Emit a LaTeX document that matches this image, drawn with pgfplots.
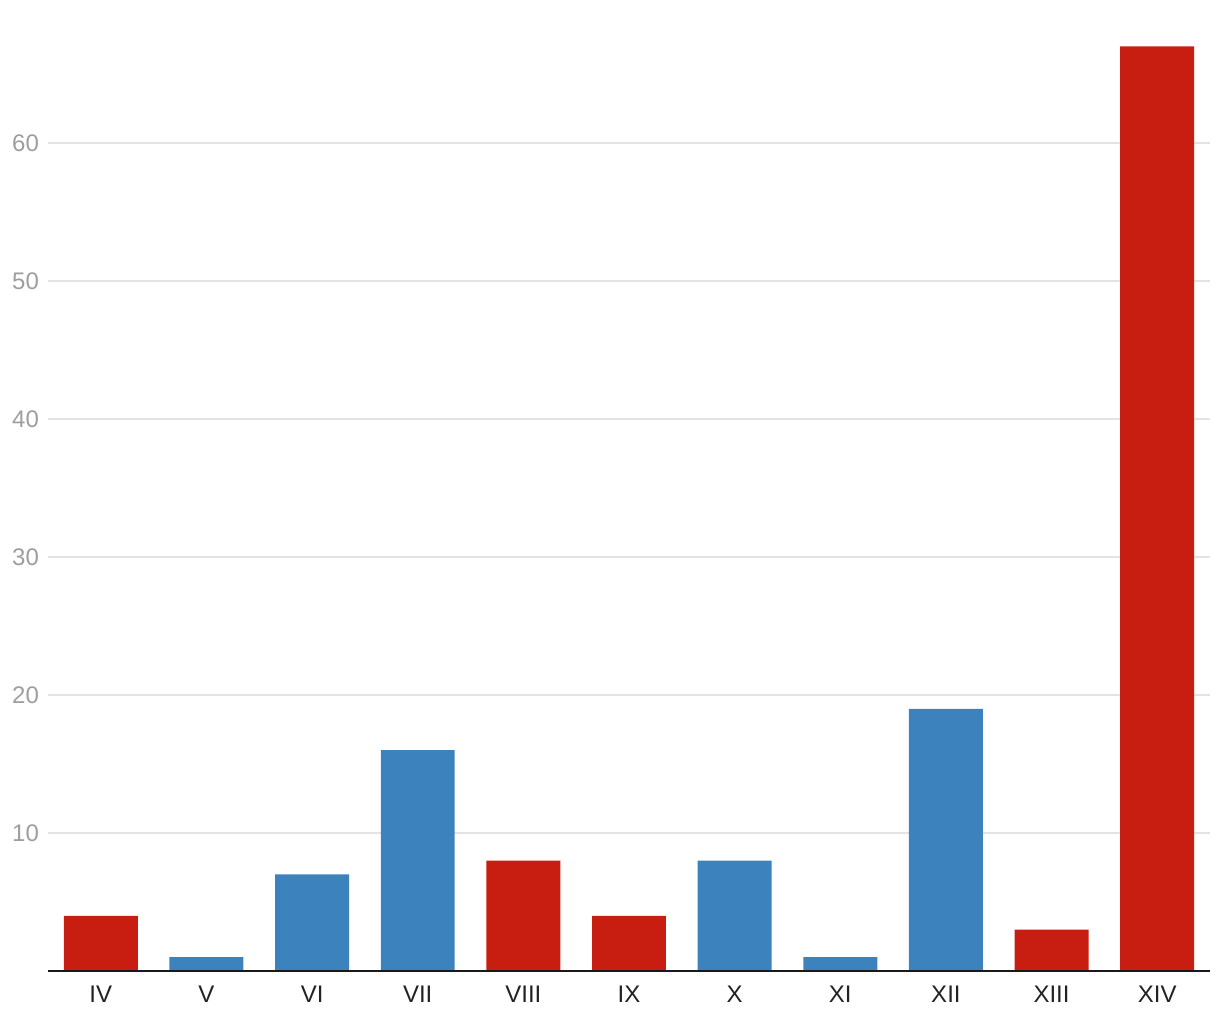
\documentclass[border=0pt]{standalone}
\usepackage{pgfplots}
\pgfplotsset{compat=1.18}
\usepackage{fontspec}
\setmainfont{Liberation Sans}
\definecolor{barred}{HTML}{C81D11}
\definecolor{barblue}{HTML}{3C83BE}
\definecolor{gridgray}{HTML}{E3E3E3}
\definecolor{ticklab}{HTML}{9E9E9E}
\definecolor{xlab}{HTML}{222222}
\begin{document}
\begin{tikzpicture}
\begin{axis}[
  at={(0pt,0pt)}, anchor=south west,
  scale only axis,
  width=581pt, height=483pt,
  xmin=-0.5, xmax=10.5,
  ymin=0, ymax=70,
  axis line style={draw=none},
  ybar, bar width=0.70, bar shift=0pt,
  xtick={0,1,2,3,4,5,6,7,8,9,10},
  xticklabels={IV,V,VI,VII,VIII,IX,X,XI,XII,XIII,XIV},
  ytick={10,20,30,40,50,60},
  ymajorgrids,
  grid style={draw=gridgray, line width=0.8pt},
  major tick length=0pt,
  tick style={draw=none},
  /pgf/number format/assume math mode=true,
  yticklabel style={font=\fontsize{12}{14}\selectfont, text=ticklab, xshift=-1pt},
  xticklabel style={font=\fontsize{12}{14}\selectfont, text=xlab, yshift=-4pt},
  clip=false,
]
\addplot[fill=barred, draw=none] coordinates {(0,4) (4,8) (5,4) (9,3) (10,67)};
\addplot[fill=barblue, draw=none] coordinates {(1,1) (2,7) (3,16) (6,8) (7,1) (8,19)};
\draw[line width=1.1pt, black!90] (axis cs:-0.5,0) -- (axis cs:10.5,0);
\end{axis}
\useasboundingbox (-24pt,-24.5pt) rectangle (586pt,485.5pt);
\end{tikzpicture}
\end{document}
